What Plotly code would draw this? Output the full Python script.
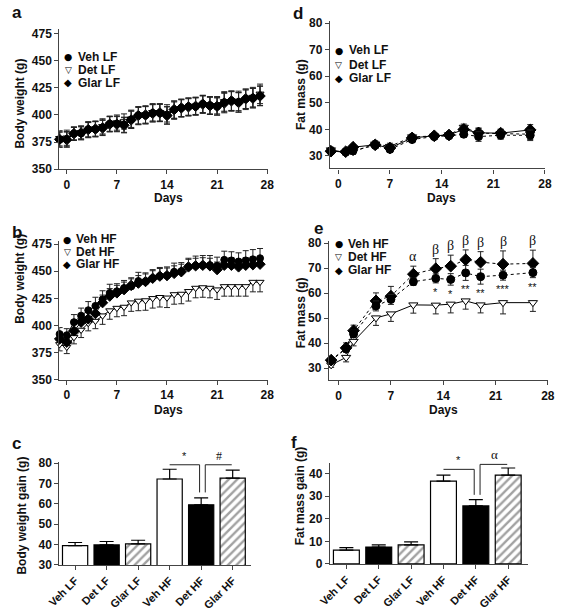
import plotly.graph_objects as go

# ---------------- data ----------------
days_bw = list(range(-1, 28))
days_fm = [-1, 1, 2, 5, 7, 10, 13, 15, 17, 19, 22, 26]

# (a) body weight, low-fat
bw_veh_lf = [377.1, 377.7, 383.0, 383.0, 386.8, 386.8, 388.6, 392.0, 392.0, 391.0, 395.8, 399.7, 399.7, 401.8, 401.8,
             399.7, 404.8, 406.6, 407.8, 407.8, 410.2, 409.0, 407.8, 411.8, 413.2, 411.8, 414.8, 415.7, 417.8]
bw_det_lf = [378.5, 379.0, 382.5, 384.0, 386.0, 387.5, 389.5, 391.5, 393.0, 394.0, 396.5, 399.0, 400.5, 402.5, 402.5,
             401.5, 404.0, 406.0, 407.0, 408.5, 409.5, 408.5, 409.0, 412.5, 412.5, 413.0, 414.0, 416.5, 419.5]
bw_glar_lf = [377.5, 377.2, 382.8, 383.5, 386.5, 387.0, 388.0, 391.5, 391.5, 390.5, 395.5, 399.5, 400.0, 401.5, 402.0,
              399.5, 405.0, 406.5, 407.5, 408.0, 410.0, 408.5, 408.0, 411.0, 413.0, 411.5, 415.0, 415.5, 417.5]
bw_err_lf = [7, 7, 6, 6, 7, 7, 7, 7, 7, 7, 8, 8, 8, 8, 8, 8, 8, 8, 8, 8, 8, 8, 8, 9, 9, 9, 9, 9, 9]

# (b) body weight, high-fat
bw_veh_hf = [392.0, 391.0, 403.0, 409.0, 414.0, 418.0, 424.0, 430.0, 431.5, 434.5, 436.0, 441.0, 440.5, 443.5, 445.5,
             446.0, 449.5, 450.0, 454.0, 455.0, 455.5, 455.5, 455.0, 460.5, 460.0, 459.0, 460.0, 461.0, 462.0]
bw_det_hf = [382.5, 380.0, 389.0, 395.8, 402.0, 404.0, 409.0, 413.7, 416.0, 417.0, 421.0, 422.6, 423.0, 425.0, 426.0,
             425.5, 428.6, 429.0, 431.5, 434.5, 435.0, 434.5, 433.0, 436.0, 436.0, 436.0, 436.0, 440.0, 440.0]
bw_glar_hf = [387.5, 384.5, 395.0, 403.0, 406.0, 411.0, 421.0, 427.0, 430.0, 433.0, 437.0, 439.0, 440.5, 443.5, 445.5,
              446.0, 448.0, 449.5, 454.0, 455.0, 455.5, 455.0, 451.5, 455.5, 455.5, 454.0, 455.5, 456.0, 456.5]
bw_err_veh_hf = [6, 6, 7, 7, 8, 8, 8, 8, 7, 7, 7, 8, 8, 8, 8, 8, 8, 8, 8, 9, 9, 9, 8, 8, 8, 8, 9, 9, 9]
bw_err_det_hf = [6, 6, 6, 7, 7, 7, 8, 8, 8, 8, 8, 9, 9, 9, 9, 9, 9, 9, 9, 9, 9, 9, 9, 9, 9, 9, 9, 9, 9]
bw_err_glar_hf = [5, 5, 6, 6, 7, 7, 7, 7, 7, 7, 7, 7, 7, 7, 7, 7, 7, 7, 7, 7, 7, 7, 7, 7, 7, 7, 7, 7, 7]

# (d) fat mass, low-fat
fm_veh_lf = [31.8, 31.5, 32.0, 34.0, 32.5, 36.2, 37.3, 37.6, 38.2, 37.3, 37.8, 37.8]
fm_det_lf = [32.3, 31.3, 31.6, 34.5, 33.6, 37.2, 37.5, 38.0, 40.8, 38.6, 38.4, 38.2]
fm_glar_lf = [31.8, 31.6, 33.3, 34.2, 33.0, 36.8, 37.6, 37.9, 40.0, 38.7, 38.6, 39.8]
fm_err_lf = [1.0, 1.0, 1.0, 1.2, 1.2, 1.0, 1.0, 1.0, 1.2, 1.8, 1.5, 2.0]

# (e) fat mass, high-fat
fm_veh_hf = [33.0, 37.8, 43.7, 54.9, 57.5, 64.6, 65.9, 65.5, 68.1, 66.6, 67.2, 68.2]
fm_det_hf = [31.3, 34.3, 40.7, 50.1, 51.7, 55.3, 55.2, 55.6, 56.9, 55.3, 56.2, 56.2]
fm_glar_hf = [33.2, 38.1, 45.0, 56.9, 58.8, 67.6, 69.8, 70.8, 73.4, 72.4, 71.6, 71.9]
fm_err_veh_hf = [1.0, 1.5, 1.5, 2.0, 2.0, 1.5, 1.8, 2.3, 3.0, 3.0, 2.0, 2.0]
fm_err_det_hf = [1.0, 1.8, 1.8, 3.0, 3.0, 3.3, 3.5, 3.5, 3.3, 3.2, 4.5, 3.5]
fm_err_glar_hf = [0.8, 2.0, 2.2, 3.2, 3.9, 3.2, 4.0, 4.4, 3.9, 4.2, 5.3, 5.3]
sig_glar = ["", "", "", "", "", "α", "β", "β", "β", "β", "β", "β"]
sig_veh = ["", "", "", "", "", "", "*", "*", "**", "**", "***", "**"]

# (c) / (f) gains
groups = ["Veh LF", "Det LF", "Glar LF", "Veh HF", "Det HF", "Glar HF"]
bw_gain = [39.5, 39.8, 40.3, 72.2, 59.5, 72.6]
bw_gain_err = [1.5, 1.7, 1.8, 4.8, 3.4, 4.0]
fm_gain = [6.1, 7.5, 8.4, 36.7, 25.7, 39.3]
fm_gain_err = [1.1, 0.9, 1.4, 2.6, 2.8, 3.2]

# ---------------- layout helpers ----------------
W, H = 562, 613
FONT = "Liberation Sans, Arial, Helvetica, sans-serif"
SERIF = "Liberation Serif, Times New Roman, serif"
AX = "#444444"
INK = "#111111"


def dx(a, b):
    return [a / W, b / W]


def dy(top, bottom):
    return [1 - bottom / H, 1 - top / H]


def px(x):
    return x / W


def py(y):
    return 1 - y / H


def axis(**kw):
    base = dict(showline=True, linecolor=AX, linewidth=1.2, ticks="outside", ticklen=4,
                tickwidth=1.2, tickcolor=AX, showgrid=False, zeroline=False,
                tickfont=dict(family=FONT, size=12, color=INK, weight="bold"))
    base.update(kw)
    return base


fig = go.Figure()

MK = {
    "veh": dict(symbol="circle", color="black", line=dict(color="black", width=1)),
    "det": dict(symbol="triangle-down", color="white", line=dict(color="black", width=1)),
    "glar": dict(symbol="diamond", color="black", line=dict(color="black", width=1)),
}


def series(x, y, kind, xa, ya, plus, minus, size=7, dash="solid"):
    m = dict(MK[kind])
    m["size"] = size + (1 if kind == "glar" else 0)
    fig.add_trace(go.Scatter(
        x=x, y=y, mode="lines+markers", xaxis=xa, yaxis=ya, showlegend=False,
        line=dict(color="black", width=1, dash=dash), marker=m,
        error_y=dict(type="data", symmetric=False, array=plus, arrayminus=minus,
                     color="#222222", thickness=1, width=3),
        cliponaxis=False))


zeros29 = [0] * len(days_bw)
zeros12 = [0] * len(days_fm)

# (a)
series(days_bw, bw_det_lf, "det", "x", "y", bw_err_lf, bw_err_lf)
series(days_bw, bw_glar_lf, "glar", "x", "y", bw_err_lf, bw_err_lf)
series(days_bw, bw_veh_lf, "veh", "x", "y", bw_err_lf, bw_err_lf)
# (b)
series(days_bw, bw_det_hf, "det", "x2", "y2", zeros29, bw_err_det_hf)
series(days_bw, bw_glar_hf, "glar", "x2", "y2", bw_err_glar_hf, zeros29)
series(days_bw, bw_veh_hf, "veh", "x2", "y2", bw_err_veh_hf, zeros29)
# (d)
series(days_fm, fm_det_lf, "det", "x4", "y4", fm_err_lf, fm_err_lf, size=8, dash="dot")
series(days_fm, fm_glar_lf, "glar", "x4", "y4", fm_err_lf, fm_err_lf, size=8)
series(days_fm, fm_veh_lf, "veh", "x4", "y4", fm_err_lf, fm_err_lf, size=8, dash="dot")
# (e)
series(days_fm, fm_det_hf, "det", "x5", "y5", zeros12, fm_err_det_hf, size=8)
series(days_fm, fm_glar_hf, "glar", "x5", "y5", fm_err_glar_hf, zeros12, size=8, dash="dot")
series(days_fm, fm_veh_hf, "veh", "x5", "y5", fm_err_veh_hf, fm_err_veh_hf, size=8, dash="dot")

# bars (c) and (f)
bar_colors = ["white", "black", "white", "white", "black", "white"]
bar_patterns = ["", "", "/", "", "", "/"]
for vals, errs, xa, ya in [(bw_gain, bw_gain_err, "x3", "y3"), (fm_gain, fm_gain_err, "x6", "y6")]:
    fig.add_trace(go.Bar(
        x=list(range(len(groups))), y=vals, xaxis=xa, yaxis=ya, width=0.8, showlegend=False,
        marker=dict(color=bar_colors, line=dict(color="black", width=1.2),
                    pattern=dict(shape=bar_patterns, fgcolor="black", size=6, solidity=0.4)),
        error_y=dict(type="data", symmetric=False, array=errs, arrayminus=[0] * len(errs),
                     color="black", thickness=1.2, width=7)))

day_ticks = [0, 7, 14, 21, 28]
bar_tickfont = dict(family=FONT, size=11, color=INK, weight="bold")
fig.update_layout(
    width=W, height=H, margin=dict(l=0, r=0, t=0, b=0),
    paper_bgcolor="white", plot_bgcolor="white", bargap=0.2,
    xaxis=axis(domain=dx(49, 264.5), range=[-1.04, 28.05], tickvals=day_ticks, anchor="y"),
    yaxis=axis(domain=dy(24, 166.7), range=[350, 478.9], tickvals=[350, 375, 400, 425, 450, 475], anchor="x"),
    xaxis2=axis(domain=dx(49, 264.5), range=[-1.04, 28.05], tickvals=day_ticks, anchor="y2"),
    yaxis2=axis(domain=dy(240, 381.7), range=[350, 478], tickvals=[350, 375, 400, 425, 450, 475], anchor="x2"),
    xaxis3=axis(domain=dx(49, 247), range=[-0.5, 5.57], tickvals=list(range(6)), ticktext=groups,
                tickangle=-45, anchor="y3", tickfont=bar_tickfont),
    yaxis3=axis(domain=dy(466, 571), range=[30, 80.5], tickvals=[30, 40, 50, 60, 70, 80], anchor="x3"),
    xaxis4=axis(domain=dx(329, 552), range=[-1.14, 28.05], tickvals=day_ticks, anchor="y4"),
    yaxis4=axis(domain=dy(15, 166), range=[25.3, 80.9], tickvals=[30, 40, 50, 60, 70, 80], anchor="x4"),
    xaxis5=axis(domain=dx(328, 555), range=[-1.3, 28.05], tickvals=day_ticks, anchor="y5"),
    yaxis5=axis(domain=dy(240, 382.5), range=[25.1, 80.9], tickvals=[30, 40, 50, 60, 70, 80], anchor="x5"),
    xaxis6=axis(domain=dx(329, 534), range=[-0.51, 5.61], tickvals=list(range(6)), ticktext=groups,
                tickangle=-45, anchor="y6", tickfont=bar_tickfont),
    yaxis6=axis(domain=dy(466.7, 570), range=[0, 44.8], tickvals=[0, 10, 20, 30, 40], anchor="x6"),
)

ann = []


def text(x, y, s, size=12, angle=0, xanchor="center", yanchor="middle", family=FONT, weight="bold"):
    ann.append(dict(x=px(x), y=py(y), xref="paper", yref="paper", text=s, showarrow=False,
                    textangle=angle, xanchor=xanchor, yanchor=yanchor,
                    font=dict(family=family, size=size, color=INK, weight=weight)))


# panel letters
for letter, x, y in [("a", 5, 7), ("b", 5.5, 231), ("c", 4.5, 447), ("d", 296, 8), ("e", 317, 227), ("f", 292, 445.5)]:
    text(x, y, letter, size=17)

# axis titles
text(8, 100, "Body weight (g)", size=12, angle=-90)
text(8, 279, "Body weight (g)", size=12, angle=-90)
text(10, 521, "Body weight gain (g)", size=12, angle=-90)
text(299, 90, "Fat mass (g)", size=12, angle=-90)
text(300, 313, "Fat mass (g)", size=12, angle=-90)
text(298, 500, "Fat mass gain (g)", size=12, angle=-90)
text(161.5, 196, "Days", size=12)
text(161.5, 413, "Days", size=12)
text(445, 196, "Days", size=12)
text(447, 413, "Days", size=12)

# legends
GLYPH = {"veh": ("●", 9.5), "det": ("▽", 9), "glar": ("◆", 10)}


def legend(mx, tx, ys, labels):
    for kind, y, lab in zip(["veh", "det", "glar"], ys, labels):
        g, s = GLYPH[kind]
        ann.append(dict(x=px(mx), y=py(y), xref="paper", yref="paper", text=g, showarrow=False,
                        xanchor="center", yanchor="middle",
                        font=dict(family="DejaVu Sans", size=s, color="black")))
        text(tx, y, lab, size=12, xanchor="left")


legend(58, 66, [51.7, 65, 78.5], ["Veh LF", "Det LF", "Glar LF"])
legend(57, 64, [238.5, 251, 264], ["Veh HF", "Det HF", "Glar HF"])
legend(338, 347, [45, 60, 74], ["Veh LF", "Det LF", "Glar LF"])
legend(338, 346, [243, 256.5, 270], ["Veh HF", "Det HF", "Glar HF"])

# significance markers in (e)
for d, g, e, s in zip(days_fm, fm_glar_hf, fm_err_glar_hf, sig_glar):
    if s:
        ann.append(dict(x=d, y=g + e, xref="x5", yref="y5", text=s, showarrow=False,
                        xanchor="center", yanchor="bottom", yshift=0,
                        font=dict(family=SERIF, size=14, color=INK)))
for d, v, e, s in zip(days_fm, fm_veh_hf, fm_err_veh_hf, sig_veh):
    if s:
        ann.append(dict(x=d, y=v - e, xref="x5", yref="y5", text=s, showarrow=False,
                        xanchor="center", yanchor="top", yshift=-1,
                        font=dict(family=FONT, size=11, color=INK)))

# brackets in (c) and (f)
shapes = []
for xa, ya, y1, y0, y2, lab1, lab2 in [("x3", "y3", 79.2, 65.6, 79.2, "*", "#"),
                                       ("x6", "y6", 41.9, 30.6, 44.1, "*", "α")]:
    shapes.append(dict(type="path", xref=xa, yref=ya, path=f"M 3,{y1} L 3.95,{y1} L 3.95,{y0}",
                       line=dict(color="#222222", width=1)))
    shapes.append(dict(type="path", xref=xa, yref=ya, path=f"M 4.13,{y0} L 4.13,{y2} L 4.97,{y2}",
                       line=dict(color="#222222", width=1)))
    ann.append(dict(x=3.46, y=y1, xref=xa, yref=ya, text=lab1, showarrow=False,
                    xanchor="center", yanchor="bottom", yshift=1,
                    font=dict(family=FONT, size=11, color=INK)))
    ann.append(dict(x=4.58, y=y2, xref=xa, yref=ya, text=lab2, showarrow=False,
                    xanchor="center", yanchor="bottom", yshift=0,
                    font=dict(family=SERIF, size=13 if lab2 == "α" else 12, color=INK)))

fig.update_layout(annotations=ann, shapes=shapes)
fig.write_html("out.html", config={"displayModeBar": False},
               post_script="document.body.style.margin='0';document.body.style.overflow='hidden';")
